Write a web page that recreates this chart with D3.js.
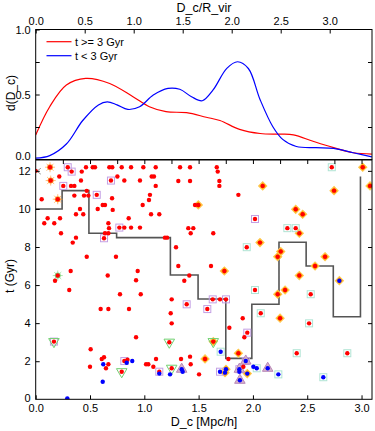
<!DOCTYPE html>
<html>
<head>
<meta charset="utf-8">
<script src="https://cdn.jsdelivr.net/npm/d3@7"></script>
<style>
body { margin: 0; background: #fff; }
text { font-family: "Liberation Sans", Arial, sans-serif; fill: #000; }
</style>
</head>
<body>
<svg id="chart" width="375" height="431"></svg>
<script>
// density curves (top panel), x in D_c/R_vir
var redCurveX = [0, 0.143, 0.313, 0.51, 0.755, 0.993, 1.16, 1.33, 1.54, 1.74, 1.88, 2.08, 2.29, 2.49, 2.63, 2.83, 3.04, 3.24, 3.43];
var redCurveY = [0.188, 0.406, 0.573, 0.624, 0.585, 0.483, 0.406, 0.368, 0.36, 0.325, 0.30, 0.232, 0.20, 0.195, 0.19, 0.14, 0.091, 0.052, 0.042];
var blueCurveX = [0, 0.143, 0.313, 0.48, 0.64, 0.73, 0.83, 0.94, 1.06, 1.2, 1.35, 1.47, 1.59, 1.70, 1.81, 1.95, 2.06, 2.17, 2.29, 2.42, 2.52, 2.66, 2.86, 3.04, 3.24, 3.43];
var blueCurveY = [0.01, 0.03, 0.119, 0.30, 0.42, 0.444, 0.42, 0.385, 0.406, 0.496, 0.547, 0.54, 0.483, 0.452, 0.535, 0.701, 0.752, 0.70, 0.46, 0.252, 0.155, 0.10, 0.091, 0.086, 0.052, 0.02];

// step line (bottom panel)
var stepEdges = [0, 0.243, 0.49, 0.745, 0.995, 1.24, 1.495, 1.75, 1.99, 2.24, 2.49, 2.74, 2.99];
var stepValues = [10.0, 10.96, 8.72, 8.49, 8.49, 6.53, 5.27, 2.15, 4.99, 8.25, 7.0, 4.34, 11.7];

// scatter, [D_c, t]
var redPoints = [
  [0.132,12.19],[0.295,12.19],[0.331,11.96],[0.424,11.96],[0.463,12.19],[0.525,12.19],[0.546,12.19],
  [0.678,12.19],[0.705,12.19],[0.792,12.19],[0.878,12.19],[0.991,12.19],[0.138,11.49],[0.217,11.70],
  [0.417,11.49],[0.693,11.49],[0.752,11.70],[0.816,11.49],[0.960,11.49],[0.254,11.21],[0.325,11.21],
  [0.356,11.21],[0.203,10.51],[0.055,10.51],[0.356,10.70],[0.445,10.70],[0.47,10.95],[0.485,10.70],
  [0.562,10.74],[0.703,10.56],[0.617,10.21],[0.638,10.21],[0.408,10.0],[0.571,10.0],[0.371,9.72],
  [0.438,9.72],[0.709,9.95],[0.11,9.51],[0.224,9.51],[0.079,9.25],[0.171,9.25],[0.856,9.51],
  [0.669,9.25],[0.675,8.99],[0.77,9.02],[0.816,9.02],[0.878,9.02],[0.96,9.02],[0.233,8.72],
  [0.638,8.72],[0.669,8.72],[0.629,8.46],[0.371,8.49],[0.341,8.23],[0.47,7.49],[0.739,7.49],
  [0.322,6.74],[0.663,6.5],[0.939,6.74],[0.924,6.25],[0.203,6.5],[0.178,6.23],
  [1.105,12.19],[1.329,12.19],[1.421,12.19],[1.667,12.19],[1.676,11.96],[1.068,11.70],[1.089,11.70],
  [1.313,11.47],[1.421,11.47],[1.691,11.47],[1.105,11.21],[1.691,11.21],[1.052,10.74],[1.043,10.47],
  [0.985,10.21],[1.866,10.74],[1.467,10.21],[1.497,10.21],[1.062,9.72],[1.138,9.72],[1.405,8.99],
  [1.451,8.99],[1.427,8.72],[1.635,8.72],[2.019,9.47],[1.19,8.49],[1.21,8.49],[1.292,7.99],
  [1.943,7.99],[1.313,7.0],[1.614,7.0],[1.737,6.74],[1.414,6.5],[1.368,6.23],
  [2.726,12.19],[3.011,12.19],[2.09,11.21],[2.747,10.96],[3.078,11.21],[2.394,9.98],[2.458,9.72],
  [2.317,8.99],[2.394,8.99],[2.427,8.72],[2.065,8.23],[2.256,7.76],[2.228,7.49],[2.664,7.49],
  [2.572,7.0],[2.427,6.5],[2.019,5.74],[2.296,5.74],[2.228,5.52],[2.532,5.52],[2.072,4.52],
  [2.25,4.26],[2.517,3.99],[2.403,2.42],[2.869,2.42],
  [0.309,5.74],[0.776,5.52],[0.967,5.52],[0.598,4.74],[0.669,4.74],[0.859,4.74],[0.924,3.26],
  [0.168,3.03],[0.506,2.63],[0.608,2.12],[0.629,2.21],[0.669,1.84],[0.647,1.63],[0.5,1.71],
  [0.816,2.01],[0.845,2.08],[0.792,1.45],[1.016,1.84],[1.037,1.84],
  [1.252,5.25],[1.39,4.99],[1.63,5.25],[1.697,5.25],[1.752,5.25],[1.58,4.74],[1.243,4.52],
  [1.252,3.99],[1.783,3.76],[1.906,4.26],[1.948,3.5],[1.921,3.26],[1.23,3.0],[1.635,3.03],
  [1.866,2.42],[1.559,2.12],[1.108,2.12],[1.338,2.12],[1.421,2.24],[1.427,1.84],[1.083,1.71],
  [1.252,1.63],[1.138,1.45],[1.504,1.31],[1.774,2.12],[1.912,1.71],[0.0,12.0]
];
var bluePoints = [
  [0.622,1.84],[0.617,0.92],[0.291,0.05],[0.838,1.92],[0.889,2.01],[1.138,1.35],[1.237,1.31],
  [1.344,1.58],[1.353,1.45],[1.703,2.5],[1.697,1.45],[1.752,1.58],[1.743,1.40],[1.934,2.01],
  [1.875,1.58],[1.875,1.45],[1.948,1.35],[1.88,1.0],[2.004,1.71],[2.035,1.63],[2.136,1.63],
  [2.234,1.31],[2.648,1.16],[2.796,6.23]
];
var purpleSquares = [
  [0.295,12.19],[0.331,11.96],[0.693,11.49],[0.254,11.21],[0.562,10.74],[0.77,9.02],[0.629,8.46],
  [2.019,9.47],[0.168,3.03],[0.816,2.01],[1.39,4.99],[1.63,5.25],[1.752,5.25],[1.58,4.74],
  [1.948,3.5],[1.138,1.45],[1.697,1.45],[1.934,2.01],[1.875,1.58]
];
var tealSquares = [
  [1.943,7.99],[2.726,12.19],[2.317,8.99],[2.394,8.99],[2.019,5.74],[2.532,5.52],[2.072,4.52],
  [2.517,3.99],[2.403,2.42],[2.869,2.42],[2.035,1.63],[2.234,1.31],[2.648,1.16],[1.703,2.5]
];
var orangeDiamonds = [
  [1.497,10.21],[1.737,6.74],[3.011,12.19],[2.09,11.21],[2.747,10.96],[3.078,11.21],[2.394,9.98],
  [2.458,9.72],[2.427,8.72],[2.065,8.23],[2.256,7.76],[2.228,7.49],[2.664,7.49],[2.572,7.0],
  [2.427,6.5],[2.796,6.23],[2.296,5.74],[2.228,5.52],[2.25,4.26],[1.635,3.03],[1.866,2.42],
  [1.559,2.12],[1.752,1.58],[1.743,1.40],[1.948,1.35]
];
var greenTriangles = [[0.168,3.03],[0.792,1.45],[1.23,3.0],[1.635,3.03],[1.252,1.63]];
var pinkTriangles = [[1.344,1.58],[1.934,2.01],[1.875,1.58],[1.88,1.0],[2.136,1.63]];
var orangeStars = [[0.132,12.19],[0.138,11.49],[0.203,10.51]];
var greenStars = [[0.203,6.5]];
var greyChevrons = [[0.02,11.98]];

var svg = d3.select("#chart");
var L = 35.7, R = 372;
var topT = 29.5, topB = 159.5, botT = 160, botB = 399.3;

var xD = d3.scaleLinear().domain([0, 3.1]).range([L, 372.4]);
var xR = d3.scaleLinear().domain([0, 3.43]).range([L, L + 3.43 * 98]);
var yD = d3.scaleLinear().domain([0, 1]).range([topB, topT]);
var yT = d3.scaleLinear().domain([0, 12.57]).range([botB, botT]);

var defs = svg.append("defs");
defs.append("clipPath").attr("id", "clipTop").append("rect")
  .attr("x", L).attr("y", topT).attr("width", R - L).attr("height", topB - topT);
defs.append("clipPath").attr("id", "clipBot").append("rect")
  .attr("x", L).attr("y", botT).attr("width", R - L).attr("height", botB - botT);

// ---- top panel ----
var gTop = svg.append("g").attr("clip-path", "url(#clipTop)");
var curve = d3.line().curve(d3.curveCatmullRom.alpha(0.5));
gTop.append("path")
  .attr("d", curve(redCurveX.map(function (x, i) { return [xR(x), yD(redCurveY[i])]; })))
  .attr("fill", "none").attr("stroke", "#ff0000").attr("stroke-width", 1.2);
gTop.append("path")
  .attr("d", curve(blueCurveX.map(function (x, i) { return [xR(x), yD(blueCurveY[i])]; })))
  .attr("fill", "none").attr("stroke", "#0000ff").attr("stroke-width", 1.2);

// legend
var legend = [["t >= 3 Gyr", "#ff0000"], ["t < 3 Gyr", "#0000ff"]];
legend.forEach(function (d, i) {
  var y = 41.7 + i * 14;
  svg.append("line").attr("x1", 46.5).attr("x2", 71.5).attr("y1", y).attr("y2", y)
    .attr("stroke", d[1]).attr("stroke-width", 1.2);
  svg.append("text").attr("x", 75).attr("y", y + 4).attr("font-size", 11).text(d[0]);
});

// ---- bottom panel ----
var gBot = svg.append("g").attr("clip-path", "url(#clipBot)");

var stepPts = stepEdges.map(function (x, i) { return [xD(x), yT(stepValues[i])]; });
gBot.append("path")
  .attr("d", d3.line().curve(d3.curveStepAfter)(stepPts))
  .attr("fill", "none").attr("stroke", "#555").attr("stroke-width", 1.6);

function px(d) { return xD(d[0]); }
function py(d) { return yT(d[1]); }

// diamonds
gBot.selectAll(".dia").data(orangeDiamonds).enter().append("path")
  .attr("d", d3.symbol().type(d3.symbolSquare).size(34)())
  .attr("transform", function (d) { return "translate(" + px(d) + "," + py(d) + ") rotate(45)"; })
  .attr("fill", "#ffa500").attr("stroke", "#ffc850").attr("stroke-width", 1);

// stars
function drawStars(data, color) {
  data.forEach(function (d) {
    var g = gBot.append("g").attr("transform", "translate(" + px(d) + "," + py(d) + ")");
    for (var k = 0; k < 8; k++) {
      var a = k * Math.PI / 4;
      g.append("line").attr("x1", 0).attr("y1", 0)
        .attr("x2", 5 * Math.cos(a)).attr("y2", 5 * Math.sin(a))
        .attr("stroke", color).attr("stroke-width", 0.8).attr("opacity", 0.8);
    }
    g.append("circle").attr("r", 3).attr("fill", color);
  });
}
drawStars(orangeStars, "#ff9a30");
drawStars(greenStars, "#80d880");

// squares
gBot.selectAll(".psq").data(purpleSquares).enter().append("rect")
  .attr("x", function (d) { return px(d) - 3.5; }).attr("y", function (d) { return py(d) - 3.5; })
  .attr("width", 7).attr("height", 7)
  .attr("fill", "none").attr("stroke", "#c4a0e4").attr("stroke-width", 1);
gBot.selectAll(".tsq").data(tealSquares).enter().append("rect")
  .attr("x", function (d) { return px(d) - 3.5; }).attr("y", function (d) { return py(d) - 3.5; })
  .attr("width", 7).attr("height", 7)
  .attr("fill", "none").attr("stroke", "#b0e4d4").attr("stroke-width", 1);

// triangles
gBot.selectAll(".gtri").data(greenTriangles).enter().append("path")
  .attr("d", d3.symbol().type(d3.symbolTriangle).size(48)())
  .attr("transform", function (d) { return "translate(" + px(d) + "," + py(d) + ") rotate(180)"; })
  .attr("fill", "none").attr("stroke", "#70d070").attr("stroke-width", 1);
gBot.selectAll(".ptri").data(pinkTriangles).enter().append("path")
  .attr("d", d3.symbol().type(d3.symbolTriangle).size(48)())
  .attr("transform", function (d) { return "translate(" + px(d) + "," + py(d) + ")"; })
  .attr("fill", "#d8b4c8").attr("stroke", "#b888b8").attr("stroke-width", 1);

// chevron at left edge
gBot.selectAll(".chev").data(greyChevrons).enter().append("path")
  .attr("d", "M3,-3 L-1,0 L3,3")
  .attr("transform", function (d) { return "translate(" + px(d) + "," + py(d) + ")"; })
  .attr("fill", "none").attr("stroke", "#999").attr("stroke-width", 1);

// dots
gBot.selectAll(".red").data(redPoints).enter().append("circle")
  .attr("cx", px).attr("cy", py).attr("r", 2.2).attr("fill", "#ff0000");
gBot.selectAll(".blue").data(bluePoints).enter().append("circle")
  .attr("cx", px).attr("cy", py).attr("r", 2.2).attr("fill", "#0000ff");

// ---- frames and axes ----
svg.append("rect").attr("x", L).attr("y", topT).attr("width", R - L).attr("height", topB - topT)
  .attr("fill", "none").attr("stroke", "#000").attr("stroke-width", 1);
svg.append("rect").attr("x", L).attr("y", botT).attr("width", R - L).attr("height", botB - botT)
  .attr("fill", "none").attr("stroke", "#000").attr("stroke-width", 1);

function addAxis(axis, tx, ty) {
  var g = svg.append("g").attr("transform", "translate(" + tx + "," + ty + ")").call(axis);
  g.select(".domain").remove();
  g.selectAll("text").attr("font-size", 11).attr("font-family", "Liberation Sans, Arial, sans-serif");
  g.selectAll("line").attr("stroke", "#000");
  return g;
}
var fmt1 = d3.format(".1f");

// top panel
addAxis(d3.axisTop(xR).tickValues([0, 0.5, 1, 1.5, 2, 2.5, 3]).tickFormat(fmt1).tickSize(-4).tickPadding(5), 0, topT);
addAxis(d3.axisLeft(yD).tickValues([0.5, 1]).tickFormat(fmt1).tickSize(-4).tickPadding(5), L, 0);
addAxis(d3.axisLeft(yD).tickValues([0]).tickFormat(fmt1).tickSize(0).tickPadding(5), L, -4);
addAxis(d3.axisLeft(yD).tickValues([0.25, 0.75]).tickFormat("").tickSize(-4), L, 0);
addAxis(d3.axisRight(yD).tickValues([0.25, 0.5, 0.75]).tickFormat("").tickSize(-4), R, 0);

// bottom panel
addAxis(d3.axisBottom(xD).tickValues([0, 0.5, 1, 1.5, 2, 2.5, 3]).tickFormat(fmt1).tickSize(-4).tickPadding(5), 0, botB);
addAxis(d3.axisTop(xD).tickValues([0.25, 0.5, 0.75, 1, 1.25, 1.5, 1.75, 2, 2.25, 2.5, 2.75, 3]).tickFormat("").tickSize(-4), 0, botT);
addAxis(d3.axisLeft(yT).tickValues([2, 4, 6, 8, 10, 12]).tickFormat(d3.format("d")).tickSize(-4).tickPadding(5), L, 0);
addAxis(d3.axisLeft(yT).tickValues([0]).tickFormat(d3.format("d")).tickSize(0).tickPadding(5), L, -1.5);
addAxis(d3.axisRight(yT).tickValues([2, 4, 6, 8, 10, 12]).tickFormat("").tickSize(-4), R, 0);

// axis titles
svg.append("text").attr("x", 204).attr("y", 12).attr("text-anchor", "middle").attr("font-size", 12.5).text("D_c/R_vir");
svg.append("text").attr("x", 204).attr("y", 426).attr("text-anchor", "middle").attr("font-size", 12.5).text("D_c [Mpc/h]");
svg.append("text").attr("transform", "translate(15,93) rotate(-90)").attr("text-anchor", "middle").attr("font-size", 12).text("d(D_c)");
svg.append("text").attr("transform", "translate(14,276) rotate(-90)").attr("text-anchor", "middle").attr("font-size", 12).text("t (Gyr)");
</script>
</body>
</html>
